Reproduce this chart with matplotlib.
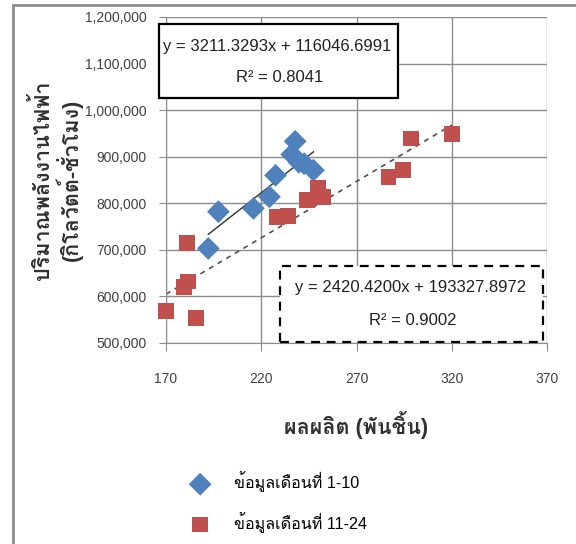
import matplotlib
matplotlib.use('Agg')
import matplotlib.pyplot as plt
from matplotlib import font_manager
from matplotlib.ft2font import FT2Font
from matplotlib.patches import Rectangle
from matplotlib.ticker import FuncFormatter

# months 1-10
x_early = [192.2, 197.5, 215.9, 224.3, 227.5, 236.0, 237.8, 239.8, 242.5, 247.4]
y_early = [703000, 782000, 789000, 814000, 860000, 905000, 933000, 888000, 885000, 871000]

# months 11-24
x_late = [170.0, 179.5, 181.7, 180.9, 185.8, 228.1, 234.2, 243.9, 252.6, 250.0,
          286.8, 294.3, 298.5, 320.0]
y_late = [569000, 621000, 632000, 714000, 553000, 771000, 772000, 807000, 814000, 832000,
          857000, 871000, 939000, 948000]

fit_early = (3211.3293, 116046.6991)
fit_late = (2420.4200, 193327.8972)
r2_early = 0.8041
r2_late = 0.9002

label_early = 'ข้อมูลเดือนที่ 1-10'
label_late = 'ข้อมูลเดือนที่ 11-24'
xlabel = 'ผลผลิต (พันชิ้น)'
ylabel = 'ปริมาณพลังงานไฟฟ้า\n(กิโลวัตต์-ชั่วโมง)'
x_ticks = [170, 220, 270, 320, 370]
y_ticks = [500000, 600000, 700000, 800000, 900000, 1000000, 1100000, 1200000]


def thai_family():
    for f in font_manager.fontManager.ttflist:
        try:
            if 0x0E01 in FT2Font(f.fname).get_charmap():
                return f.name
        except Exception:
            pass
    return None


fams = ['Liberation Sans']
thai = thai_family()
if thai:
    fams.append(thai)
fams.append('DejaVu Sans')
plt.rcParams['font.family'] = fams

blue = '#4F81BD'
red = '#C0504D'
grid_c = '#8C8C8C'

fig = plt.figure(figsize=(5.76, 5.44), dpi=100)
ax = fig.add_axes([166 / 576, 1 - 343 / 544, 381 / 576, 326 / 544])

ax.set_xlim(170, 370)
ax.set_ylim(500000, 1200000)
ax.set_xticks(x_ticks)
ax.set_yticks(y_ticks)
ax.yaxis.set_major_formatter(FuncFormatter(lambda v, p: f'{int(v):,}'))
ax.grid(True, color=grid_c, linewidth=1)
ax.set_axisbelow(True)
for s in ('top', 'right'):
    ax.spines[s].set_visible(False)
for s in ('left', 'bottom'):
    ax.spines[s].set_color(grid_c)
ax.tick_params(direction='out', length=5, color=grid_c, labelsize=10, labelcolor='#404040')
ax.tick_params(axis='y', pad=9)
ax.tick_params(axis='x', pad=15, length=6)

# trend lines over data range
xs = [min(x_early), max(x_early)]
ax.plot(xs, [fit_early[0] * v + fit_early[1] for v in xs], color='#303030', lw=1, zorder=2)
xs = [min(x_late), max(x_late)]
ax.plot(xs, [fit_late[0] * v + fit_late[1] for v in xs], color='#505050', lw=1.2,
        ls=(0, (3, 3)), zorder=2)

ax.scatter(x_early, y_early, marker='D', s=135, color=blue, edgecolors='none',
           label=label_early, zorder=3, clip_on=False)
ax.scatter(x_late, y_late, marker='s', s=130, color=red, edgecolors='none',
           label=label_late, zorder=3, clip_on=False)

# equation boxes
ax.add_patch(Rectangle((-0.018, 0.752), 0.627, 0.227, transform=ax.transAxes,
                       facecolor='white', edgecolor='black', lw=1.6, clip_on=False, zorder=4))
ax.text(0.293, 0.91, f'y = {fit_early[0]:.4f}x + {fit_early[1]:.4f}', transform=ax.transAxes,
        ha='center', va='center', fontsize=12, color='#202020', zorder=5)
ax.text(0.299, 0.813, f'R² = {r2_early:.4f}', transform=ax.transAxes,
        ha='center', va='center', fontsize=12, color='#202020', zorder=5)

ax.add_patch(Rectangle((0.299, 0.003), 0.691, 0.233, transform=ax.transAxes,
                       facecolor='white', edgecolor='black', lw=1.6, ls=(0, (4, 3)),
                       clip_on=False, zorder=4))
ax.text(0.643, 0.169, f'y = {fit_late[0]:.4f}x + {fit_late[1]:.4f}', transform=ax.transAxes,
        ha='center', va='center', fontsize=12, color='#202020', zorder=5)
ax.text(0.648, 0.068, f'R² = {r2_late:.4f}', transform=ax.transAxes,
        ha='center', va='center', fontsize=12, color='#202020', zorder=5)

fig.text(356 / 576, 1 - 425 / 544, xlabel, ha='center', va='center', fontsize=15.5,
         fontweight='bold', color='#303030')
fig.text(57 / 576, 1 - 180 / 544, ylabel, ha='center', va='center', rotation=90,
         fontsize=15.5, fontweight='bold', color='#303030', multialignment='center',
         linespacing=1.1)

fig.legend(loc='center left', bbox_to_anchor=(176 / 576, 1 - 502 / 544), frameon=False,
           fontsize=11.6, labelspacing=1.2, handletextpad=1.5, handlelength=1.2)

# outer chart border (cropped)
fig.add_artist(Rectangle((13 / 576, -0.1), 1.2, 1 - 5 / 544 + 0.1, transform=fig.transFigure,
                         facecolor='none', edgecolor='#8C8C8C', lw=2))

fig.savefig('out.png', dpi=100)
